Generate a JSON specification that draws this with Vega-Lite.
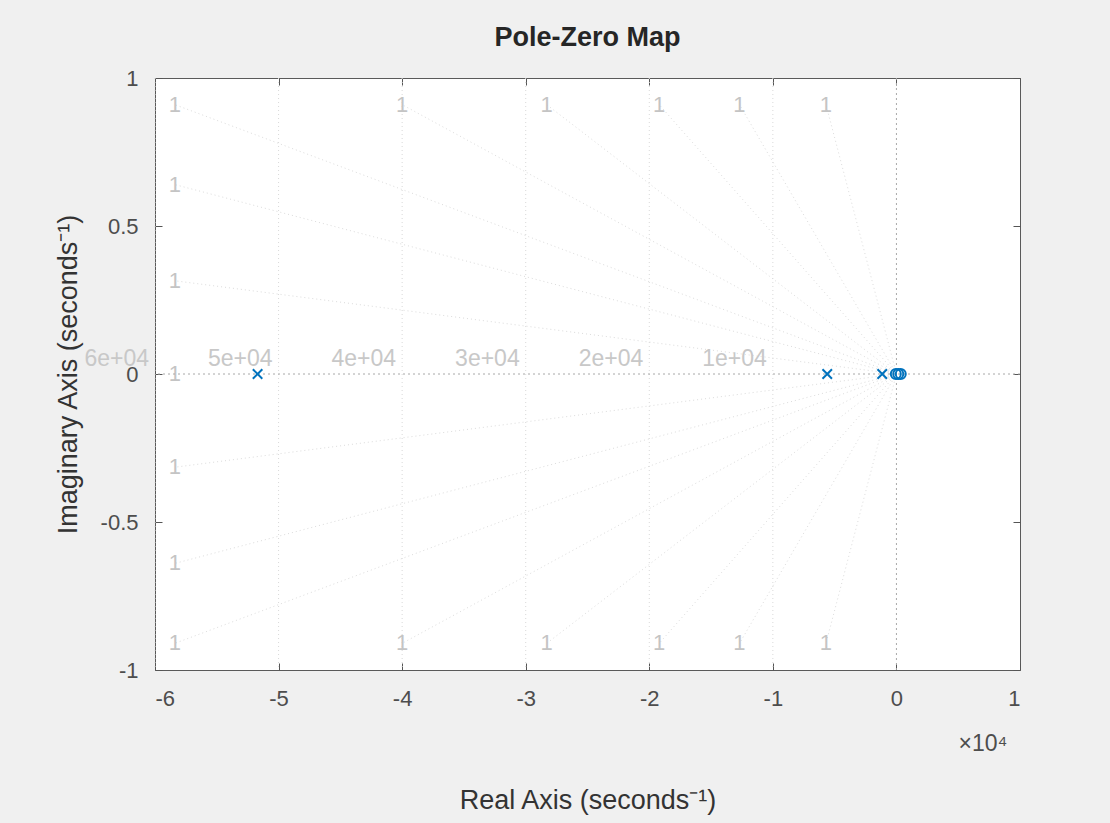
{
  "$schema": "https://vega.github.io/schema/vega-lite/v6.json",
  "width": 865,
  "height": 592,
  "autosize": {"type": "none"},
  "padding": {"left": 155, "top": 78, "right": 90, "bottom": 153},
  "background": "#f0f0f0",
  "config": {
    "view": {"fill": "white", "stroke": "#5a5a5a", "strokeWidth": 1},
    "font": "Liberation Sans"
  },
  "title": {
    "text": "Pole-Zero Map",
    "font": "Liberation Sans",
    "fontSize": 27,
    "fontWeight": "bold",
    "color": "#262626",
    "anchor": "middle",
    "baseline": "alphabetic",
    "offset": 30,
    "dy": 36
  },
  "datasets": {
    "damping": [
      {"x": 0, "y": 0, "x2": -5.84, "y2": 0.91},
      {"x": 0, "y": 0, "x2": -5.84, "y2": 0.64},
      {"x": 0, "y": 0, "x2": -5.84, "y2": 0.315},
      {"x": 0, "y": 0, "x2": -4.0, "y2": 0.91},
      {"x": 0, "y": 0, "x2": -2.83, "y2": 0.91},
      {"x": 0, "y": 0, "x2": -1.92, "y2": 0.91},
      {"x": 0, "y": 0, "x2": -1.27, "y2": 0.91},
      {"x": 0, "y": 0, "x2": -0.57, "y2": 0.91},
      {"x": 0, "y": 0, "x2": -5.84, "y2": -0.91},
      {"x": 0, "y": 0, "x2": -5.84, "y2": -0.64},
      {"x": 0, "y": 0, "x2": -5.84, "y2": -0.315},
      {"x": 0, "y": 0, "x2": -4.0, "y2": -0.91},
      {"x": 0, "y": 0, "x2": -2.83, "y2": -0.91},
      {"x": 0, "y": 0, "x2": -1.92, "y2": -0.91},
      {"x": 0, "y": 0, "x2": -1.27, "y2": -0.91},
      {"x": 0, "y": 0, "x2": -0.57, "y2": -0.91}
    ],
    "dampLabels": [
      {"x": -5.84, "y": 0.91, "t": "1"},
      {"x": -5.84, "y": 0.64, "t": "1"},
      {"x": -5.84, "y": 0.315, "t": "1"},
      {"x": -5.84, "y": 0, "t": "1"},
      {"x": -4.0, "y": 0.91, "t": "1"},
      {"x": -2.83, "y": 0.91, "t": "1"},
      {"x": -1.92, "y": 0.91, "t": "1"},
      {"x": -1.27, "y": 0.91, "t": "1"},
      {"x": -0.57, "y": 0.91, "t": "1"},
      {"x": -5.84, "y": -0.91, "t": "1"},
      {"x": -5.84, "y": -0.64, "t": "1"},
      {"x": -5.84, "y": -0.315, "t": "1"},
      {"x": -4.0, "y": -0.91, "t": "1"},
      {"x": -2.83, "y": -0.91, "t": "1"},
      {"x": -1.92, "y": -0.91, "t": "1"},
      {"x": -1.27, "y": -0.91, "t": "1"},
      {"x": -0.57, "y": -0.91, "t": "1"}
    ],
    "wn": [
      {"x": -6, "y": 0.05, "t": "6e+04"},
      {"x": -5, "y": 0.05, "t": "5e+04"},
      {"x": -4, "y": 0.05, "t": "4e+04"},
      {"x": -3, "y": 0.05, "t": "3e+04"},
      {"x": -2, "y": 0.05, "t": "2e+04"},
      {"x": -1, "y": 0.05, "t": "1e+04"}
    ],
    "origin": [{"x": 0, "y": 0}],
    "poles": [
      {"x": -5.17, "y": 0},
      {"x": -0.56, "y": 0},
      {"x": -0.115, "y": 0}
    ],
    "zeros": [
      {"x": -0.005, "y": 0},
      {"x": 0.015, "y": 0},
      {"x": 0.035, "y": 0}
    ],
    "exp": [{"x": 0.7, "y": -1.25, "t": "×10⁴"}]
  },
  "resolve": {"axis": {"x": "independent", "y": "independent"}},
  "layer": [
    {
      "data": {"name": "damping"},
      "mark": {"type": "rule", "color": "#dcdcdc", "strokeWidth": 1, "strokeDash": [1, 3]},
      "encoding": {
        "x": {"field": "x", "type": "quantitative", "scale": {"domain": [-6, 1], "nice": false, "zero": false}, "axis": null},
        "y": {"field": "y", "type": "quantitative", "scale": {"domain": [-1, 1], "nice": false, "zero": false}, "axis": null},
        "x2": {"field": "x2"},
        "y2": {"field": "y2"}
      }
    },
    {
      "data": {"name": "wn"},
      "mark": {"type": "rule", "color": "#d9d9d9", "strokeWidth": 1, "strokeDash": [1, 3]},
      "encoding": {
        "x": {"field": "x", "type": "quantitative", "scale": {"domain": [-6, 1], "nice": false, "zero": false}, "axis": null}
      }
    },
    {
      "data": {"name": "dampLabels"},
      "mark": {"type": "text", "color": "#c4c4c4", "fontSize": 22, "font": "Liberation Sans", "align": "center", "baseline": "middle"},
      "encoding": {
        "x": {"field": "x", "type": "quantitative", "scale": {"domain": [-6, 1], "nice": false, "zero": false}, "axis": null},
        "y": {"field": "y", "type": "quantitative", "scale": {"domain": [-1, 1], "nice": false, "zero": false}, "axis": null},
        "text": {"field": "t"}
      }
    },
    {
      "data": {"name": "wn"},
      "mark": {"type": "text", "color": "#c8c8c8", "fontSize": 23, "font": "Liberation Sans", "align": "right", "baseline": "middle", "dx": -6},
      "encoding": {
        "x": {"field": "x", "type": "quantitative", "scale": {"domain": [-6, 1], "nice": false, "zero": false}, "axis": null},
        "y": {"field": "y", "type": "quantitative", "scale": {"domain": [-1, 1], "nice": false, "zero": false}, "axis": null},
        "text": {"field": "t"}
      }
    },
    {
      "data": {"name": "origin"},
      "mark": {"type": "rule", "color": "#a8a8a8", "strokeWidth": 1, "strokeDash": [2, 3]},
      "encoding": {
        "x": {"field": "x", "type": "quantitative", "scale": {"domain": [-6, 1], "nice": false, "zero": false}, "axis": null}
      }
    },
    {
      "data": {"name": "origin"},
      "mark": {"type": "rule", "color": "#a8a8a8", "strokeWidth": 1, "strokeDash": [2, 3]},
      "encoding": {
        "y": {"field": "y", "type": "quantitative", "scale": {"domain": [-1, 1], "nice": false, "zero": false}, "axis": null}
      }
    },
    {
      "data": {"name": "poles"},
      "mark": {"type": "point", "shape": "M-1,-1L1,1M1,-1L-1,1", "filled": false, "stroke": "#0072BD", "strokeWidth": 2, "size": 90, "opacity": 1},
      "encoding": {
        "x": {
          "field": "x", "type": "quantitative",
          "scale": {"domain": [-6, 1], "nice": false, "zero": false},
          "axis": {
            "orient": "bottom", "values": [-6, -5, -4, -3, -2, -1, 0, 1],
            "labelExpr": "'' + datum.value", "domain": false, "grid": false,
            "tickSize": -7, "tickColor": "#555555", "tickWidth": 1,
            "labelFont": "Liberation Sans", "labelFontSize": 22, "labelColor": "#4d4d4d", "labelPadding": 25,
            "title": "Real Axis (seconds⁻¹)", "titleFont": "Liberation Sans", "titleFontSize": 27,
            "titleFontWeight": "normal", "titleColor": "#333333", "titleY": 130, "titleBaseline": "middle"
          }
        },
        "y": {
          "field": "y", "type": "quantitative",
          "scale": {"domain": [-1, 1], "nice": false, "zero": false},
          "axis": {
            "orient": "left", "values": [-1, -0.5, 0, 0.5, 1],
            "labelExpr": "'' + datum.value", "domain": false, "grid": false,
            "tickSize": -7, "tickColor": "#555555", "tickWidth": 1,
            "labelFont": "Liberation Sans", "labelFontSize": 22, "labelColor": "#4d4d4d", "labelPadding": 24,
            "title": "Imaginary Axis (seconds⁻¹)", "titleFont": "Liberation Sans", "titleFontSize": 27,
            "titleFontWeight": "normal", "titleColor": "#333333", "titleX": -87, "titleBaseline": "middle"
          }
        }
      }
    },
    {
      "data": {"name": "zeros"},
      "mark": {"type": "point", "shape": "circle", "filled": false, "stroke": "#0072BD", "strokeWidth": 2, "size": 100, "opacity": 1},
      "encoding": {
        "x": {
          "field": "x", "type": "quantitative",
          "scale": {"domain": [-6, 1], "nice": false, "zero": false},
          "axis": {
            "orient": "top", "values": [-6, -5, -4, -3, -2, -1, 0, 1],
            "labels": false, "domain": false, "grid": false, "title": null,
            "tickSize": -7, "tickColor": "#555555", "tickWidth": 1
          }
        },
        "y": {
          "field": "y", "type": "quantitative",
          "scale": {"domain": [-1, 1], "nice": false, "zero": false},
          "axis": {
            "orient": "right", "values": [-1, -0.5, 0, 0.5, 1],
            "labels": false, "domain": false, "grid": false, "title": null,
            "tickSize": -7, "tickColor": "#555555", "tickWidth": 1
          }
        }
      }
    },
    {
      "data": {"name": "exp"},
      "mark": {"type": "text", "color": "#4d4d4d", "fontSize": 23, "font": "Liberation Sans", "align": "center", "baseline": "middle"},
      "encoding": {
        "x": {"field": "x", "type": "quantitative", "scale": {"domain": [-6, 1], "nice": false, "zero": false}, "axis": null},
        "y": {"field": "y", "type": "quantitative", "scale": {"domain": [-1, 1], "nice": false, "zero": false}, "axis": null},
        "text": {"field": "t"}
      }
    }
  ]
}
